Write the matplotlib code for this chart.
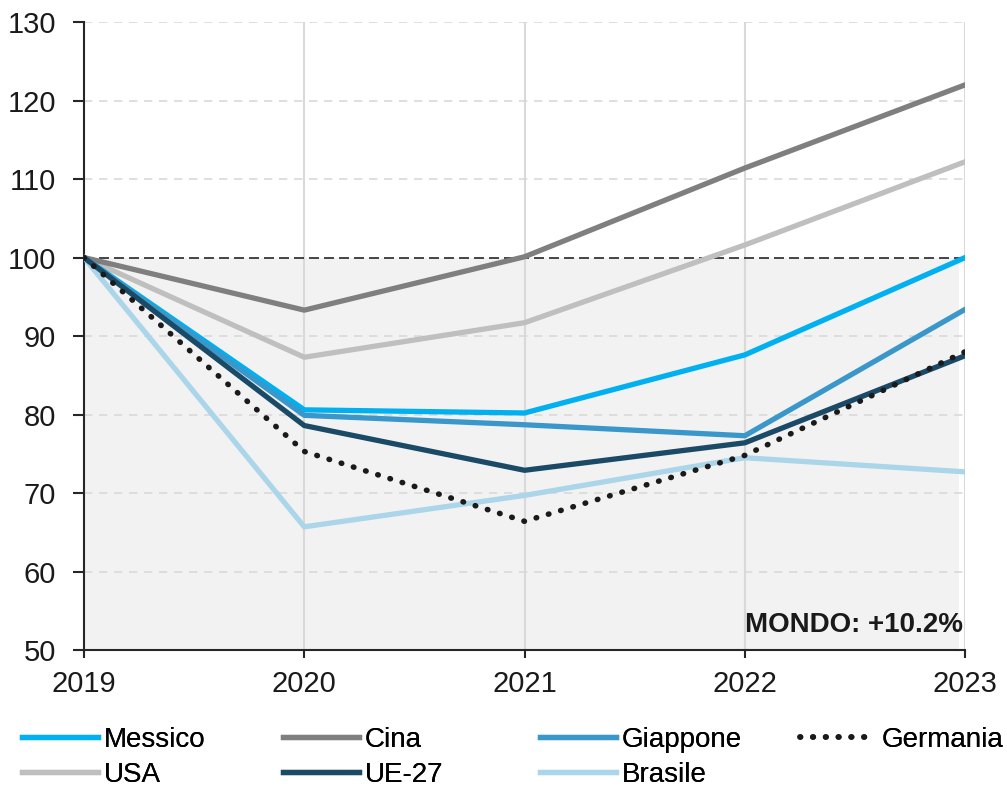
import numpy as np
import matplotlib
matplotlib.use("Agg")
import matplotlib.pyplot as plt

plt.rcParams['font.family'] = ['Liberation Sans', 'DejaVu Sans']

# Data
years = [2019, 2020, 2021, 2022, 2023]
messico = [100, 80.6, 80.2, 87.6, 100.0]
cina = [100, 93.3, 100.1, 111.4, 122.0]
giappone = [100, 79.9, 78.7, 77.3, 93.4]
germania = [100, 75.3, 66.4, 74.8, 88.0]
usa = [100, 87.3, 91.7, 101.6, 112.2]
ue27 = [100, 78.6, 72.9, 76.4, 87.5]
brasile = [100, 65.7, 69.7, 74.5, 72.7]

fig = plt.figure(figsize=(10.07, 7.87), dpi=100)
ax = fig.add_axes([0.0834, 0.174, 0.875, 0.798])

# shaded area below 100
ax.fill_between([2019, 2022.97], 50, 100, color='#f2f2f2', zorder=0, linewidth=0)

# grid
for y in range(60, 140, 10):
    if y != 100:
        ax.axhline(y, color='#d9d9d9', lw=1.2, ls=(0, (5, 4)), zorder=1)
for x in years[1:]:
    ax.axvline(x, color='#d9d9d9', lw=1.5, zorder=1)
ax.axhline(100, color='#262626', lw=1.2, ls=(0, (6, 3)), zorder=2)

lw = 3.8
l_mes, = ax.plot(years, messico, color='#00b0f0', lw=lw, label='Messico', zorder=5)
l_cin, = ax.plot(years, cina, color='#7f7f7f', lw=lw, label='Cina', zorder=5)
l_gia, = ax.plot(years, giappone, color='#3a97c9', lw=lw, label='Giappone', zorder=5)
l_ger, = ax.plot(years, germania, color='#1a1a1a', lw=4, ls=(0, (0.1, 2.2)),
                 dash_capstyle='round', label='Germania', zorder=6)
l_usa, = ax.plot(years, usa, color='#bfbfbf', lw=lw, label='USA', zorder=4)
l_ue, = ax.plot(years, ue27, color='#1b4a66', lw=lw, label='UE-27', zorder=5)
l_bra, = ax.plot(years, brasile, color='#abd6ea', lw=lw, label='Brasile', zorder=4)

ax.set_xlim(2019, 2023)
ax.set_ylim(50, 130)
ax.set_xticks(years)
ax.set_yticks(range(50, 140, 10))
ax.tick_params(axis='both', labelsize=21, width=1.5, color='#262626',
               labelcolor='#1a1a1a')
ax.tick_params(axis='y', length=8, pad=12)
ax.tick_params(axis='x', length=6, pad=8)
for s in ['top', 'right']:
    ax.spines[s].set_visible(False)
for s in ['left', 'bottom']:
    ax.spines[s].set_linewidth(1.5)
    ax.spines[s].set_color('#262626')

ax.text(2022.99, 51.6, 'MONDO: +10.2%', ha='right', va='bottom', fontsize=20,
        fontweight='bold', color='#1a1a1a', zorder=7)

# legend: one block per column, rows read left to right
columns = [([l_mes, l_usa], 22), ([l_cin, l_ue], 283), ([l_gia, l_bra], 540), ([l_ger], 800)]
for handles, xpx in columns:
    leg = fig.legend(handles=handles, loc='upper left',
                     bbox_to_anchor=(xpx / 1007, 0.076), ncol=1, frameon=False,
                     fontsize=20, handlelength=2.75, handletextpad=0.2,
                     labelspacing=0.3, borderaxespad=0, borderpad=0)
    fig.add_artist(leg)

fig.savefig('out.png', dpi=100)
